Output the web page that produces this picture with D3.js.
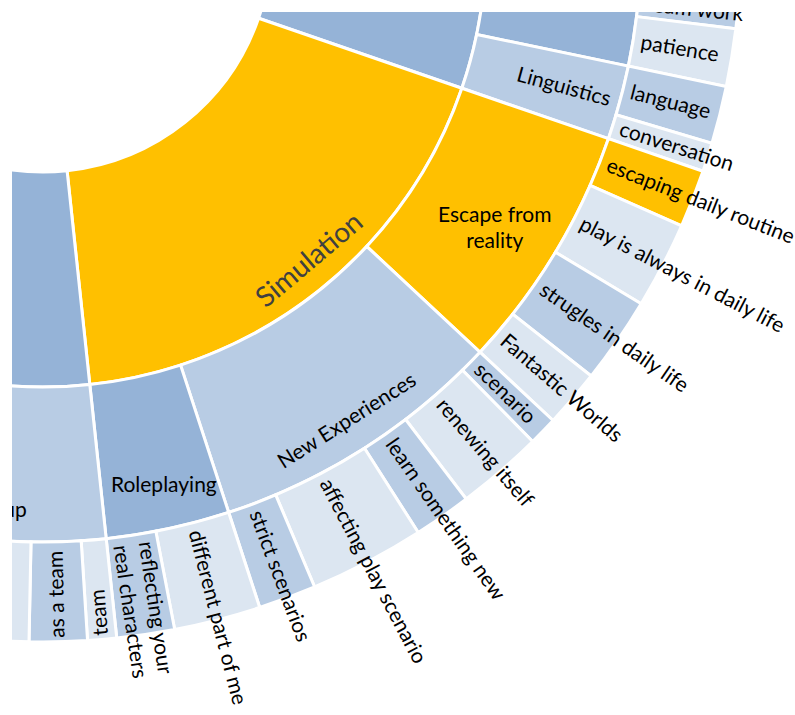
<!DOCTYPE html>
<html>
<head>
<meta charset="utf-8">
<script src="https://cdn.jsdelivr.net/npm/d3@7"></script>
<style>
  body { margin: 0; background: #fff; }
  svg { display: block; }
</style>
</head>
<body>
<svg id="chart" width="795" height="715"></svg>
<script>
// ring 1 (the two outer categories run off the visible part, their labels are not shown)
const ring1 = ["", "Simulation", ""];

// ring 2, with the index of the ring 1 parent
const ring2 = ["", "Linguistics", "Escape from reality", "New Experiences", "Roleplaying", "Group"];
const ring2Parent = [0, 0, 1, 1, 1, 2];

// leaves, clockwise, with the index of the ring 2 parent and their counts
const leaves = [
    "team work", "patience", "language", "conversation",
    "escaping daily routine", "play is always in daily life", "strugles in daily life", "Fantastic Worlds",
    "scenario", "renewing itself", "learn something new", "affecting play scenario", "strict scenarios",
    "different part of me", "reflecting your real characters",
    "team", "as a team", ""
];
const leafParent = [0, 0, 1, 1, 2, 2, 2, 2, 3, 3, 3, 3, 3, 4, 4, 5, 5, 5];
const leafValues = [1, 2, 2, 1, 2, 3, 3, 2, 1, 3, 2, 4, 2, 3, 2, 1, 2, 5];

const highlighted = ["Simulation", "Escape from reality", "escaping daily routine"];

// layout
const cx = 43, cy = -56;
const ringEdges = [0, 228, 443, 598, 698];
const unitDeg = 2.405;          // degrees per count
const simulationStart = 109.0;  // where Simulation begins, degrees clockwise from 12 o'clock

const ringColors = {
    1: ["#95B3D7"],
    2: ["#95B3D7", "#B8CCE4"],
    3: ["#B8CCE4", "#DCE6F1"]
};
const yellow = "#FFC000";

const lineBreaks = {
    "reflecting your real characters": ["reflecting your", "real characters"],
    "Escape from reality": ["Escape from", "reality"]
};

// how the inner labels sit (leaves are handled by a rule below)
const labelStyle = {
    "Simulation": { mode: "tangential", r: 414, da: -1.6, size: 28, color: "#404040" },
    "Linguistics": { mode: "radial", r: 540, da: 0 },
    "Escape from reality": { mode: "horizontal", r: 534, da: 1.2 },
    "New Experiences": { mode: "tangential", r: 566, da: 0 },
    "Roleplaying": { mode: "horizontal", r: 555, da: -0.5 },
    "Group": { mode: "horizontal", r: 568, da: 1.0 }
};

const fontFamily = "Lato, 'Open Sans', sans-serif";
const fontSize = 21;

// hierarchy
const tree = {
    name: "root",
    children: ring1.map((n1, i) => ({
        name: n1,
        children: ring2
            .map((n2, j) => ({ name: n2, j: j }))
            .filter(c => ring2Parent[c.j] === i)
            .map(c => ({
                name: c.name,
                children: leaves
                    .map((l, k) => ({ name: l, value: leafValues[k], k: k }))
                    .filter(l => leafParent[l.k] === c.j)
            }))
    }))
};

const root = d3.hierarchy(tree).sum(d => d.children ? 0 : d.value);
const total = root.value;
d3.partition().size([total, 4])(root);

const startDeg = simulationStart - root.children[0].value * unitDeg;
const toRad = Math.PI / 180;
const angle = d3.scaleLinear()
    .domain([0, total])
    .range([startDeg * toRad, (startDeg + total * unitDeg) * toRad]);

const arc = d3.arc()
    .startAngle(d => angle(d.x0))
    .endAngle(d => angle(d.x1))
    .innerRadius(d => ringEdges[d.depth])
    .outerRadius(d => ringEdges[d.depth + 1]);

const svg = d3.select("#chart");

svg.append("defs").append("clipPath").attr("id", "plot")
    .append("rect").attr("x", 12).attr("y", 12).attr("width", 783).attr("height", 703);

const g = svg.append("g").attr("clip-path", "url(#plot)");
const chart = g.append("g").attr("transform", "translate(" + cx + "," + cy + ")");

// colour each node by its place in its ring
const nodes = root.descendants().filter(d => d.depth > 0);
[1, 2, 3].forEach(k => {
    nodes.filter(d => d.depth === k).forEach((d, i) => {
        const pal = ringColors[k];
        d.fill = highlighted.includes(d.data.name) ? yellow : pal[i % pal.length];
    });
});

chart.selectAll("path.seg")
    .data(nodes)
    .join("path")
    .attr("class", "seg")
    .attr("d", arc)
    .attr("fill", d => d.fill)
    .attr("stroke", "#fff")
    .attr("stroke-width", 3);

const midDeg = d => (angle(d.x0) + angle(d.x1)) / 2 / toRad;

function addLines(text, name) {
    const lines = lineBreaks[name] || [name];
    const lh = 1.22;
    lines.forEach((line, i) => {
        const off = -(lines.length - 1) / 2 * lh;
        text.append("tspan")
            .attr("x", text.attr("x") || 0)
            .attr("dy", i === 0 ? (off + 0.3) + "em" : lh + "em")
            .text(line);
    });
}

// leaf labels: radial, starting just inside the ring, spilling out if long
const leafNodes = nodes.filter(d => d.depth === 3 && d.data.name);
leafNodes.forEach(d => {
    const th = midDeg(d);
    const rot = th - 90;
    const lg = chart.append("g").attr("transform", "rotate(" + rot + ")");
    const t = lg.append("text")
        .attr("font-family", fontFamily)
        .attr("font-size", fontSize)
        .attr("fill", "#000")
        .attr("text-anchor", "start");
    if (rot > 83) {
        // near straight down the short labels turn round and read inwards
        t.attr("transform", "translate(" + (ringEdges[4] - 4) + ",0) rotate(180)");
        t.attr("x", 0);
    } else {
        t.attr("x", ringEdges[3] + 8);
    }
    addLines(t, d.data.name);
});

// inner labels
nodes.filter(d => d.depth < 3 && labelStyle[d.data.name]).forEach(d => {
    const s = labelStyle[d.data.name];
    const th = midDeg(d) + s.da;
    const x = s.r * Math.sin(th * toRad);
    const y = -s.r * Math.cos(th * toRad);
    let rot = 0;
    if (s.mode === "tangential") rot = th - 180;
    if (s.mode === "radial") rot = th - 90;
    const t = chart.append("text")
        .attr("transform", "translate(" + x + "," + y + ") rotate(" + rot + ")")
        .attr("font-family", fontFamily)
        .attr("font-size", s.size || fontSize)
        .attr("fill", s.color || "#000")
        .attr("text-anchor", "middle")
        .attr("x", 0);
    addLines(t, d.data.name);
});
</script>
</body>
</html>
